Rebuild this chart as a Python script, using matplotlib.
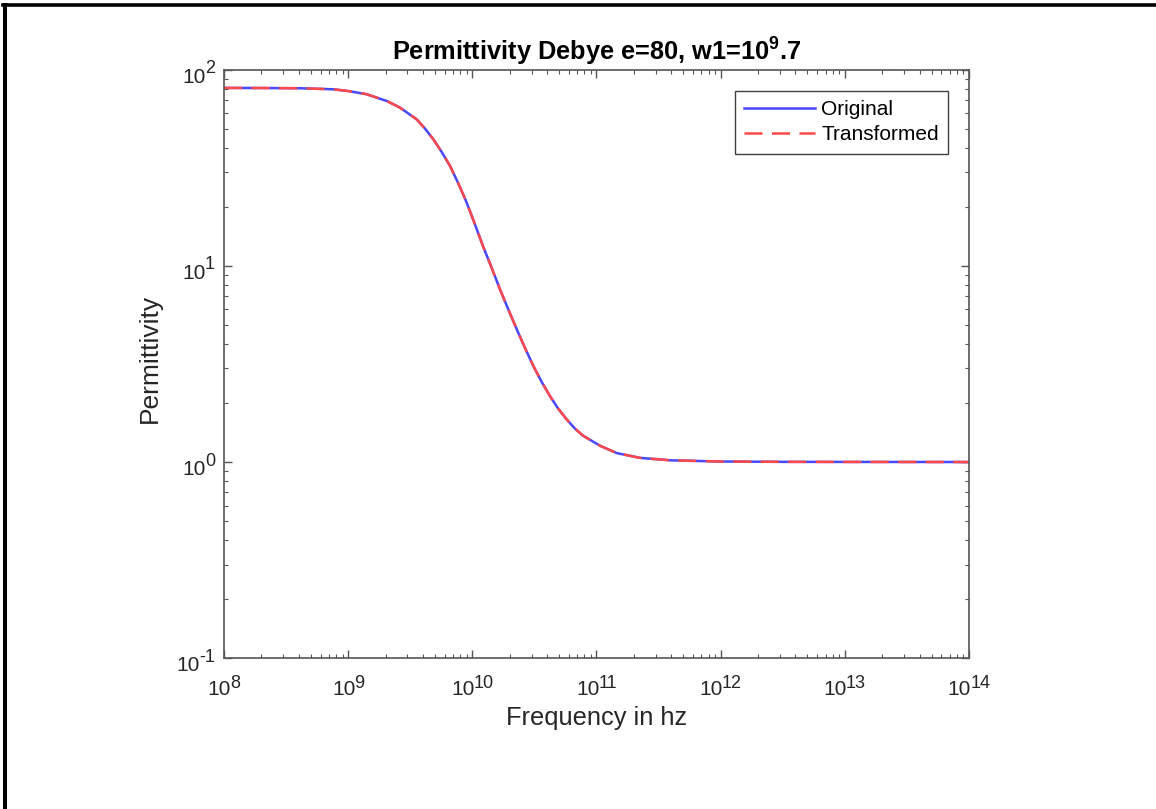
import matplotlib
matplotlib.use("Agg")
import matplotlib.pyplot as plt
from matplotlib.lines import Line2D

# values
freq_hz = [1.00e8, 2.00e8, 4.09e8, 7.59e8, 1.00e9, 1.41e9, 1.64e9, 2.04e9,
           2.61e9, 3.56e9, 4.16e9, 4.85e9, 5.66e9, 6.61e9, 7.71e9, 9.02e9,
           1.05e10, 1.22e10, 1.43e10, 1.67e10, 1.95e10, 2.28e10, 2.65e10,
           3.10e10, 3.62e10, 4.22e10, 4.92e10, 5.75e10, 6.71e10, 7.83e10,
           1.07e11, 1.46e11, 2.24e11, 3.98e11, 1.0e12, 3.16e12, 1.0e13, 1.0e14]
perm_original = [81.0, 80.9, 80.7, 79.7, 78.1, 75.2, 72.8, 69.5,
                 64.3, 56.0, 50.2, 44.3, 38.2, 32.4, 26.4, 21.0,
                 16.3, 12.6, 9.8, 7.6, 6.0, 4.75, 3.83,
                 3.09, 2.56, 2.17, 1.87, 1.65, 1.48, 1.36,
                 1.21, 1.11, 1.05, 1.02, 1.006, 1.002, 1.001, 1.0]
perm_transformed = list(perm_original)

x_exps = [8, 9, 10, 11, 12, 13, 14]
y_exps = [-1, 0, 1, 2]

plt.rcParams['font.family'] = ['Liberation Sans', 'DejaVu Sans']
plt.rcParams['mathtext.fontset'] = 'custom'
plt.rcParams['mathtext.rm'] = 'Liberation Sans'
plt.rcParams['mathtext.bf'] = 'Liberation Sans:bold'

fig = plt.figure(figsize=(11.56, 8.09), dpi=100)
ax = fig.add_axes([0.1938, 0.1866, 0.8382 - 0.1938, 0.9135 - 0.1866])

ax.loglog(freq_hz, perm_original, color='#4848ff', lw=1.8, label='Original')
ax.loglog(freq_hz, perm_transformed, color='#ff4848', lw=1.8,
          linestyle=(0, (7.2, 3.8)), label='Transformed')

ax.set_xlim(1e8, 1e14)
ax.set_ylim(1e-1, 1e2)
ax.set_xticks([10.0 ** e for e in x_exps])
ax.set_yticks([10.0 ** e for e in y_exps])
ax.set_xticklabels([])
ax.set_yticklabels([])

axis_col = '#555555'
txt_col = '#262626'
for s in ax.spines.values():
    s.set_color(axis_col)
    s.set_linewidth(1.2)
ax.tick_params(which='both', direction='in', top=True, right=True,
               color=axis_col)
ax.tick_params(which='major', length=6, width=1.0)
ax.tick_params(which='minor', length=3, width=0.8)

# tick labels as "10" with a raised exponent, like the MATLAB look
renderer = fig.canvas.get_renderer()
gap = -1.0
for e in x_exps:
    base = ax.annotate('10', xy=(10.0 ** e, 0), xycoords=ax.get_xaxis_transform(),
                       xytext=(0, -37), textcoords='offset pixels',
                       ha='left', va='baseline', fontsize=15, color=txt_col)
    sup = ax.annotate(str(e), xy=(10.0 ** e, 0), xycoords=ax.get_xaxis_transform(),
                      xytext=(0, -30), textcoords='offset pixels',
                      ha='left', va='baseline', fontsize=13, color=txt_col)
    wb = base.get_window_extent(renderer).width
    ws = sup.get_window_extent(renderer).width
    total = wb + gap + ws
    base.xyann = (-total / 2, -37)
    sup.xyann = (-total / 2 + wb + gap, -30)

for e in y_exps:
    sup = ax.annotate(str(e), xy=(0, 10.0 ** e), xycoords=ax.get_yaxis_transform(),
                      xytext=(-9, -3.5), textcoords='offset pixels',
                      ha='right', va='baseline', fontsize=13, color=txt_col)
    ws = sup.get_window_extent(renderer).width
    ax.annotate('10', xy=(0, 10.0 ** e), xycoords=ax.get_yaxis_transform(),
                xytext=(-9 - ws - gap, -13), textcoords='offset pixels',
                ha='right', va='baseline', fontsize=15, color=txt_col)

ax.set_title(r'Permittivity Debye e=80, w1=10$^{\mathbf{9}}$.7', fontsize=18.3,
             fontweight='bold', color='black', pad=7)
ax.set_xlabel('Frequency in hz', fontsize=18.3, color=txt_col, va='center')
ax.xaxis.set_label_coords(0.5, -0.102)
ax.set_ylabel('Permittivity', fontsize=19, color=txt_col, va='center')
ax.yaxis.set_label_coords(-0.099, 0.51)

leg = ax.legend(loc='upper right', bbox_to_anchor=(0.972, 0.965),
                fontsize=15, handlelength=3.4, fancybox=False,
                framealpha=1, edgecolor='#404040', borderpad=0.45,
                labelspacing=0.3, handletextpad=0.3, borderaxespad=0)
leg.get_frame().set_linewidth(1.0)

# black frame lines along the top and left edges of the image
fig.add_artist(Line2D([4.5 / 1156, 4.5 / 1156], [0, 1 - 4.5 / 809],
                      transform=fig.transFigure, color='black', lw=2.9))
fig.add_artist(Line2D([3 / 1156, 1], [1 - 4.5 / 809, 1 - 4.5 / 809],
                      transform=fig.transFigure, color='black', lw=2.6))

fig.savefig('out.png', dpi=100)
